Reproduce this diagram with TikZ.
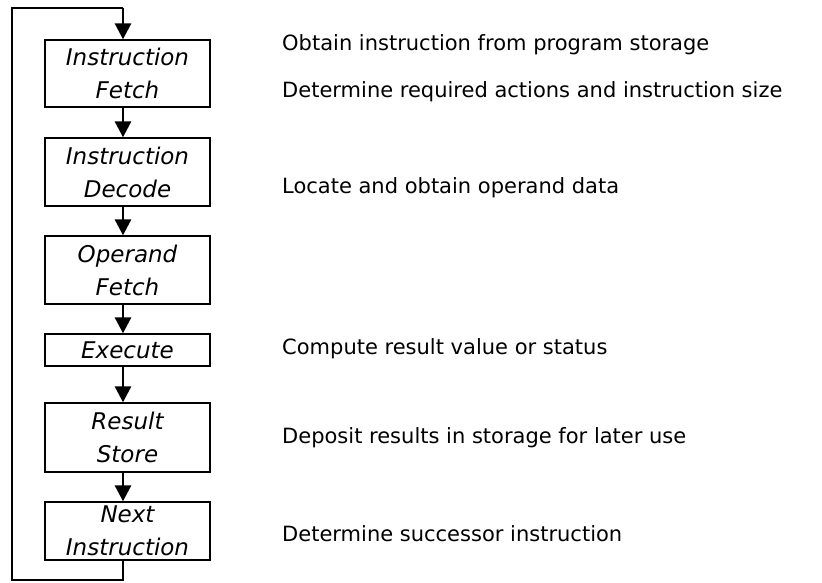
\documentclass[tikz,border=0pt]{standalone}
\usepackage{fontspec}
\setmainfont{DejaVu Sans}
\usetikzlibrary{arrows.meta}
\tikzset{
  stagebox/.style={draw, line width=1.3pt, minimum width=165pt, inner sep=0pt, align=center,
    font=\fontsize{23}{33}\selectfont\itshape},
  flow/.style={line width=2.8pt, -{Triangle[length=16pt,width=16pt]}},
  desc/.style={anchor=west, inner sep=0pt, font=\fontsize{21}{24}\selectfont},
}
\begin{document}
\begin{tikzpicture}[x=1pt,y=-1pt]
\useasboundingbox (0,0) rectangle (822,583);
\node[stagebox, minimum height=67pt] (b1) at (127.5,73.5) {Instruction\\Fetch};
\node[stagebox, minimum height=68pt] (b2) at (127.5,172) {Instruction\\Decode};
\node[stagebox, minimum height=68pt] (b3) at (127.5,270) {Operand\\Fetch};
\node[stagebox, minimum height=32pt] (b4) at (127.5,350) {Execute};
\node[stagebox, minimum height=69pt] (b5) at (127.5,437.5) {Result\\Store};
\node[stagebox, minimum height=58pt] (b6) at (127.5,531) {Next\\Instruction};
\coordinate (top) at (123,8);
\coordinate (tl) at (12,8);
\coordinate (bl) at (12,580);
\coordinate (br) at (123,580);
\draw[flow] (b1.south -| top) -- (b2.north -| top);
\draw[flow] (b2.south -| top) -- (b3.north -| top);
\draw[flow] (b3.south -| top) -- (b4.north -| top);
\draw[flow] (b4.south -| top) -- (b5.north -| top);
\draw[flow] (b5.south -| top) -- (b6.north -| top);
\draw[line width=2.8pt] (b6.south -| top) -- (br) -- (bl) -- (tl) -- (top);
\draw[flow] (top) -- (b1.north -| top);
\node[desc] (d1) at (282,45) {Obtain instruction from program storage};
\node[desc] (d2) at (282,92) {Determine required actions and instruction size};
\node[desc] (d3) at (282,188) {Locate and obtain operand data};
\node[desc] (d4) at (282,349) {Compute result value or status};
\node[desc] (d5) at (282,438) {Deposit results in storage for later use};
\node[desc] (d6) at (282,534) {Determine successor instruction};
\end{tikzpicture}
\end{document}
